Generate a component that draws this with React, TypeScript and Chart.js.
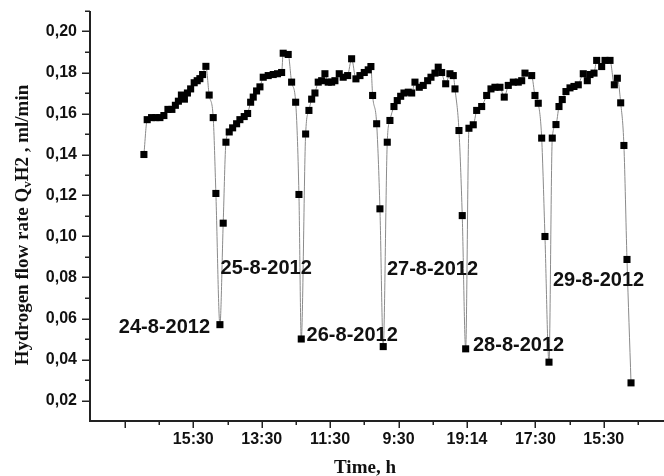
import React, { useEffect, useRef } from 'react';
import { Chart, registerables } from 'chart.js';

Chart.register(...registerables);

// Time axis position (1 unit = one major tick) and hydrogen flow rate (ml/min), per day
const day24Time = [1.278, 1.326, 1.39, 1.453, 1.512, 1.57, 1.629, 1.687, 1.738, 1.782, 1.826, 1.87, 1.914, 1.961, 2.013, 2.057, 2.096, 2.136, 2.184, 2.232, 2.291, 2.33, 2.389];
const day24Flow = [0.14, 0.157, 0.158, 0.158, 0.158, 0.159, 0.162, 0.162, 0.164, 0.166, 0.169, 0.167, 0.17, 0.172, 0.175, 0.176, 0.177, 0.179, 0.183, 0.169, 0.158, 0.121, 0.057];

const day25Time = [2.437, 2.477, 2.525, 2.575, 2.633, 2.681, 2.744, 2.794, 2.838, 2.876, 2.925, 2.974, 3.022, 3.095, 3.168, 3.231, 3.291, 3.314, 3.387, 3.437, 3.496, 3.544, 3.578];
const day25Flow = [0.1065, 0.146, 0.151, 0.153, 0.155, 0.157, 0.1585, 0.16, 0.1655, 0.168, 0.171, 0.173, 0.1777, 0.1785, 0.179, 0.1794, 0.18, 0.1894, 0.1888, 0.1753, 0.1655, 0.1205, 0.05];

const day26Time = [3.642, 3.69, 3.73, 3.778, 3.826, 3.876, 3.924, 3.972, 4.022, 4.07, 4.133, 4.191, 4.256, 4.314, 4.377, 4.436, 4.499, 4.557, 4.596, 4.621, 4.68, 4.728, 4.776];
const day26Flow = [0.15, 0.1615, 0.167, 0.17, 0.1753, 0.176, 0.1794, 0.1753, 0.1753, 0.176, 0.1794, 0.1777, 0.1785, 0.1867, 0.1769, 0.1785, 0.18, 0.1813, 0.1829, 0.1688, 0.155, 0.1135, 0.0463];

const day27Time = [4.835, 4.874, 4.933, 4.981, 5.031, 5.079, 5.142, 5.192, 5.24, 5.303, 5.361, 5.425, 5.474, 5.532, 5.58, 5.63, 5.689, 5.751, 5.8, 5.825, 5.883, 5.931, 5.981];
const day27Flow = [0.146, 0.1566, 0.1634, 0.1663, 0.1684, 0.17, 0.1704, 0.17, 0.1753, 0.1728, 0.1737, 0.176, 0.1777, 0.1797, 0.1826, 0.18, 0.1745, 0.1794, 0.1785, 0.172, 0.1517, 0.1102, 0.0452];

const day28Time = [6.029, 6.092, 6.142, 6.215, 6.288, 6.351, 6.409, 6.482, 6.545, 6.604, 6.677, 6.75, 6.8, 6.848, 6.946, 6.994, 7.042, 7.092, 7.14, 7.199];
const day28Flow = [0.1528, 0.1545, 0.1615, 0.1634, 0.1688, 0.172, 0.1728, 0.1728, 0.168, 0.1737, 0.1753, 0.1753, 0.176, 0.1797, 0.1785, 0.1688, 0.165, 0.148, 0.1, 0.0387];

const day29Time = [7.247, 7.301, 7.345, 7.393, 7.447, 7.506, 7.564, 7.627, 7.7, 7.759, 7.798, 7.857, 7.896, 7.969, 8.018, 8.091, 8.154, 8.198, 8.247, 8.294, 8.339, 8.398];
const day29Flow = [0.148, 0.1546, 0.1634, 0.1668, 0.1707, 0.1725, 0.1732, 0.174, 0.1794, 0.176, 0.179, 0.1797, 0.1859, 0.1829, 0.1859, 0.1859, 0.174, 0.1772, 0.1652, 0.1444, 0.0888, 0.0286];

// Axis ticks
const xTickValues = [1, 2, 3, 4, 5, 6, 7, 8];
const xTickLabels = ['', '15:30', '13:30', '11:30', '9:30', '19:14', '17:30', '15:30'];
const yTickValues = [0.02, 0.04, 0.06, 0.08, 0.1, 0.12, 0.14, 0.16, 0.18, 0.2];

// Day annotations (anchored in data units: left edge of text, vertical centre)
const dayLabels = ['24-8-2012', '25-8-2012', '26-8-2012', '27-8-2012', '28-8-2012', '29-8-2012'];
const dayLabelTime = [0.912, 2.399, 3.656, 4.83, 6.088, 7.257];
const dayLabelFlow = [0.0556, 0.0844, 0.0517, 0.0839, 0.0468, 0.0785];

const xTitle = 'Time, h';

const allTime = [...day24Time, ...day25Time, ...day26Time, ...day27Time, ...day28Time, ...day29Time];
const allFlow = [...day24Flow, ...day25Flow, ...day26Flow, ...day27Flow, ...day28Flow, ...day29Flow];

const SANS = '"Liberation Sans", Arial, sans-serif';
const SERIF = '"Liberation Serif", "Times New Roman", serif';

const decorPlugin = {
  id: 'decor',
  afterDraw(chart: any) {
    const ctx = chart.ctx;
    const x = chart.scales.x;
    const y = chart.scales.y;
    const { left, top, bottom } = chart.chartArea;
    ctx.save();
    ctx.strokeStyle = '#222';
    // axis lines
    ctx.lineWidth = 2;
    ctx.beginPath();
    ctx.moveTo(left, top);
    ctx.lineTo(left, bottom + 1);
    ctx.moveTo(left - 1, bottom);
    ctx.lineTo(chart.width, bottom);
    ctx.stroke();
    // y ticks
    ctx.lineWidth = 1.5;
    ctx.beginPath();
    for (let k = 2; k <= 21; k++) {
      const py = Math.round(y.getPixelForValue(k / 100)) + 0.25;
      const len = k % 2 === 0 ? 8 : 5;
      ctx.moveTo(left - len, py);
      ctx.lineTo(left, py);
    }
    // x ticks
    for (let k = 2; k <= 17; k++) {
      const px = Math.round(x.getPixelForValue(k / 2)) + 0.25;
      const len = k % 2 === 0 ? 7 : 4;
      ctx.moveTo(px, bottom);
      ctx.lineTo(px, bottom + len);
    }
    ctx.stroke();

    // day annotations
    ctx.fillStyle = '#111';
    ctx.font = 'bold 20px ' + SANS;
    ctx.textAlign = 'left';
    ctx.textBaseline = 'middle';
    dayLabels.forEach((t, i) => {
      ctx.fillText(t, x.getPixelForValue(dayLabelTime[i]), y.getPixelForValue(dayLabelFlow[i]));
    });

    // x title
    ctx.font = 'bold 19px ' + SERIF;
    ctx.textAlign = 'center';
    ctx.textBaseline = 'alphabetic';
    ctx.fillText(xTitle, 365, 473);

    // y title with subscript
    const big = 'bold 19px ' + SERIF;
    const small = 'bold 13px ' + SERIF;
    const p1 = 'Hydrogen flow rate Q';
    const p2 = 'v';
    const p3 = 'H2 , ml/min';
    ctx.font = big;
    const w1 = ctx.measureText(p1).width;
    const w3 = ctx.measureText(p3).width;
    ctx.font = small;
    const w2 = ctx.measureText(p2).width;
    const total = w1 + w2 + w3;
    ctx.translate(23, 225);
    ctx.rotate(-Math.PI / 2);
    ctx.textAlign = 'left';
    ctx.textBaseline = 'middle';
    let cx = -total / 2;
    ctx.font = big;
    ctx.fillText(p1, cx, 0);
    cx += w1;
    ctx.font = small;
    ctx.fillText(p2, cx, 5);
    cx += w2;
    ctx.font = big;
    ctx.fillText(p3, cx, 0);
    ctx.restore();
  },
};

export default function App() {
  const ref = useRef<HTMLCanvasElement | null>(null);
  useEffect(() => {
    if (!ref.current) return;
    const chart = new Chart(ref.current, {
      type: 'line',
      data: {
        datasets: [
          {
            data: allTime.map((t, i) => ({ x: t, y: allFlow[i] })),
            borderColor: '#8a8a8a',
            borderWidth: 1,
            cubicInterpolationMode: 'monotone',
            pointStyle: 'rect',
            pointRadius: 5,
            pointBorderWidth: 0,
            pointBackgroundColor: '#000',
            pointBorderColor: '#000',
            fill: false,
            clip: false,
          },
        ],
      },
      options: {
        responsive: false,
        animation: false,
        layout: { padding: { top: 11, left: 0, right: 0, bottom: 0 } },
        plugins: { legend: { display: false }, tooltip: { enabled: false } },
        scales: {
          x: {
            type: 'linear',
            min: 0.49,
            max: 8.88,
            grid: { display: false, drawTicks: false },
            border: { display: false },
            afterBuildTicks: (s: any) => {
              s.ticks = xTickValues.map((v) => ({ value: v }));
            },
            afterFit: (s: any) => {
              s.height = 55;
              s.paddingLeft = 0;
              s.paddingRight = 0;
            },
            ticks: {
              autoSkip: false,
              maxRotation: 0,
              padding: 9,
              color: '#111',
              font: { family: SANS, weight: 'bold', size: 16 },
              callback: (_v: any, i: number) => xTickLabels[i],
            },
          },
          y: {
            type: 'linear',
            min: 0.01,
            max: 0.21,
            grid: { display: false, drawTicks: false },
            border: { display: false },
            afterBuildTicks: (s: any) => {
              s.ticks = yTickValues.map((v) => ({ value: v }));
            },
            afterFit: (s: any) => {
              s.width = 90;
              s.paddingTop = 0;
              s.paddingBottom = 0;
            },
            ticks: {
              padding: 13,
              color: '#111',
              font: { family: SANS, weight: 'bold', size: 16 },
              callback: (v: any) => Number(v).toFixed(2).replace('.', ','),
            },
          },
        },
      },
      plugins: [
        decorPlugin,
        {
          id: 'fitRight',
          afterLayout(chart: any) {
            // let the plot area run to the right edge of the canvas, as in the reference
            const x = chart.scales.x;
            if (chart.chartArea.right < chart.width) {
              chart.chartArea.right = chart.width;
              chart.chartArea.width = chart.width - chart.chartArea.left;
              x.right = chart.width;
              x.width = chart.width - x.left;
              x.configure();
            }
          },
        },
      ],
    } as any);
    return () => chart.destroy();
  }, []);
  return (
    <div style={{ position: 'fixed', left: 0, top: 0, width: 664, height: 476, background: '#fff' }}>
      <canvas ref={ref} width={664} height={476} />
    </div>
  );
}
